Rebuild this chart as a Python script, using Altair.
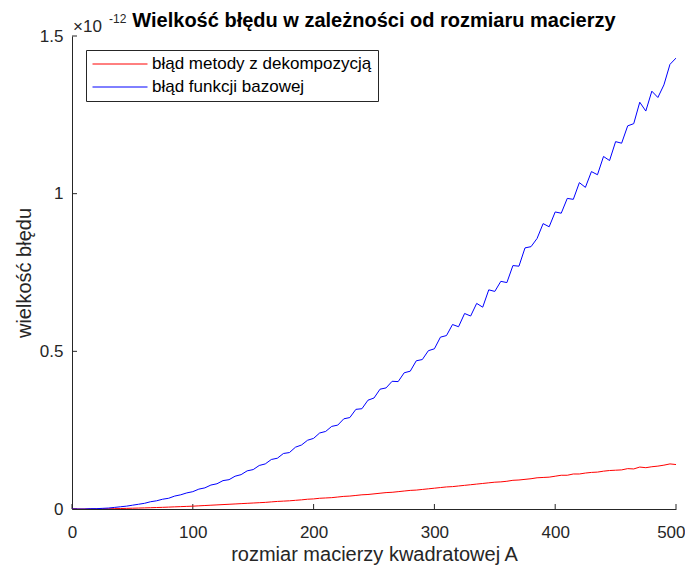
import altair as alt
import pandas as pd

# matrix sizes (x axis)
sizes = list(range(0, 501, 5))

# error values, in units of 1e-12
err_decomp = [
    0.000, 0.000, 0.000, 0.0002, 0.0003, 0.0005, 0.0008, 0.0011, 0.0015, 0.002,
    0.0025, 0.003, 0.0035, 0.0041, 0.0047, 0.0053, 0.006, 0.0068, 0.0075, 0.0083,
    0.009, 0.010, 0.011, 0.012, 0.013, 0.014, 0.015, 0.016, 0.017, 0.018,
    0.019, 0.020, 0.021, 0.0225, 0.024, 0.025, 0.026, 0.0275, 0.029, 0.031,
    0.032, 0.034, 0.035, 0.036, 0.038, 0.040, 0.041, 0.043, 0.045, 0.046,
    0.048, 0.050, 0.052, 0.053, 0.055, 0.057, 0.059, 0.060, 0.062, 0.064,
    0.066, 0.068, 0.070, 0.071, 0.073, 0.075, 0.077, 0.079, 0.081, 0.083,
    0.085, 0.086, 0.088, 0.091, 0.092, 0.094, 0.096, 0.099, 0.100, 0.101,
    0.104, 0.107, 0.107, 0.111, 0.111, 0.114, 0.116, 0.117, 0.120, 0.122,
    0.123, 0.124, 0.128, 0.127, 0.133, 0.131, 0.134, 0.136, 0.139, 0.143,
    0.141,
]

err_base = [
    0.000, 0.000, 0.000, 0.001, 0.001, 0.002, 0.003, 0.005, 0.007, 0.009,
    0.012, 0.015, 0.018, 0.023, 0.026, 0.031, 0.034, 0.041, 0.045, 0.051,
    0.055, 0.063, 0.067, 0.076, 0.080, 0.090, 0.093, 0.104, 0.109, 0.121,
    0.125, 0.138, 0.143, 0.157, 0.161, 0.176, 0.179, 0.196, 0.203, 0.218,
    0.224, 0.241, 0.246, 0.262, 0.266, 0.286, 0.290, 0.316, 0.318, 0.345,
    0.352, 0.380, 0.384, 0.405, 0.404, 0.432, 0.437, 0.470, 0.474, 0.502,
    0.508, 0.545, 0.550, 0.585, 0.578, 0.620, 0.612, 0.652, 0.640, 0.695,
    0.690, 0.722, 0.718, 0.772, 0.770, 0.828, 0.832, 0.858, 0.905, 0.895,
    0.942, 0.938, 0.985, 0.982, 1.035, 1.020, 1.070, 1.060, 1.118, 1.105,
    1.165, 1.160, 1.215, 1.222, 1.290, 1.262, 1.325, 1.305, 1.345, 1.410,
    1.430,
]

series_names = ["błąd metody z dekompozycją", "błąd funkcji bazowej"]
series_colors = ["#ff0000", "#0000ff"]

x_ticks = [0, 100, 200, 300, 400, 500]
y_ticks = [0, 0.5, 1, 1.5]

rows = []
for s, name in zip([err_decomp, err_base], series_names):
    for i, v in enumerate(s):
        rows.append({"n": sizes[i], "err": v, "series": name})
df = pd.DataFrame(rows)

FONT = "Liberation Sans"
AXC = "#262626"
W, H = 604, 473

xscale = alt.Scale(domain=[0, 500], nice=False, zero=False)
yscale = alt.Scale(domain=[0, 1.5], nice=False)

lines = alt.Chart(df).mark_line(strokeWidth=1, clip=True).encode(
    x=alt.X("n:Q", scale=xscale,
            axis=alt.Axis(values=x_ticks, title="rozmiar macierzy kwadratowej A",
                          grid=False, ticks=False, domainColor=AXC, labelColor=AXC,
                          labelFontSize=17, labelFont=FONT, labelPadding=15,
                          labelFlush=False, labelOverlap=False,
                          labelAlign={"condition": {"test": "datum.value >= 500", "value": "right"},
                                      "value": "center"},
                          labelOffset={"condition": {"test": "datum.value >= 500", "value": 9},
                                       "value": 0},
                          titleFont=FONT, titleFontSize=20, titleFontWeight="normal",
                          titleColor=AXC, titlePadding=4, format="d")),
    y=alt.Y("err:Q", scale=yscale,
            axis=alt.Axis(values=y_ticks, title="wielkość błędu", grid=False,
                          ticks=False, domainColor=AXC, labelColor=AXC,
                          labelFontSize=17, labelFont=FONT, labelPadding=9,
                          labelFlush=False, labelOverlap=False,
                          format=".1~f", titleFont=FONT, titleFontSize=20,
                          titleFontWeight="normal", titleColor=AXC, titlePadding=5)),
    color=alt.Color("series:N",
                    scale=alt.Scale(domain=series_names, range=series_colors),
                    sort=series_names,
                    legend=alt.Legend(title=None, orient="none", legendX=14, legendY=14,
                                      symbolType="stroke", symbolSize=3025,
                                      symbolStrokeWidth=1, labelFont=FONT,
                                      labelFontSize=17, labelColor="#000000",
                                      labelLimit=0, clipHeight=16,
                                      fillColor="white", strokeColor=AXC,
                                      padding=6, rowPadding=6, labelOffset=4)),
    order=alt.Order("n:Q"),
)

xt = alt.Chart(pd.DataFrame({"t": x_ticks})).mark_rule(color=AXC, strokeWidth=1).encode(
    x=alt.X("t:Q", scale=xscale), y=alt.value(H), y2=alt.value(H - 5))
yt = alt.Chart(pd.DataFrame({"t": y_ticks})).mark_rule(color=AXC, strokeWidth=1).encode(
    y=alt.Y("t:Q", scale=yscale), x=alt.value(0), x2=alt.value(5))

one = pd.DataFrame({"a": [0]})
exp_base = alt.Chart(one).mark_text(
    text="×10", font=FONT, fontSize=17, color=AXC, align="left", baseline="alphabetic"
).encode(x=alt.value(1), y=alt.value(-4))
exp_pow = alt.Chart(one).mark_text(
    text="-12", font=FONT, fontSize=12, color=AXC, align="left", baseline="alphabetic"
).encode(x=alt.value(37), y=alt.value(-13))
title = alt.Chart(one).mark_text(
    text="Wielkość błędu w zależności od rozmiaru macierzy", font=FONT, fontSize=20,
    fontWeight="bold", color="#000000", align="center", baseline="alphabetic"
).encode(x=alt.value(W / 2), y=alt.value(-9))

chart = alt.layer(xt, yt, lines, exp_base, exp_pow, title).properties(
    width=W, height=H,
    autosize=alt.AutoSizeParams(type="none"),
    padding={"left": 64, "top": 28, "right": 9, "bottom": 60},
).configure_view(stroke=None).configure_axis(domainWidth=1)

chart.save("out.html", embed_options={"renderer": "svg", "actions": False})
